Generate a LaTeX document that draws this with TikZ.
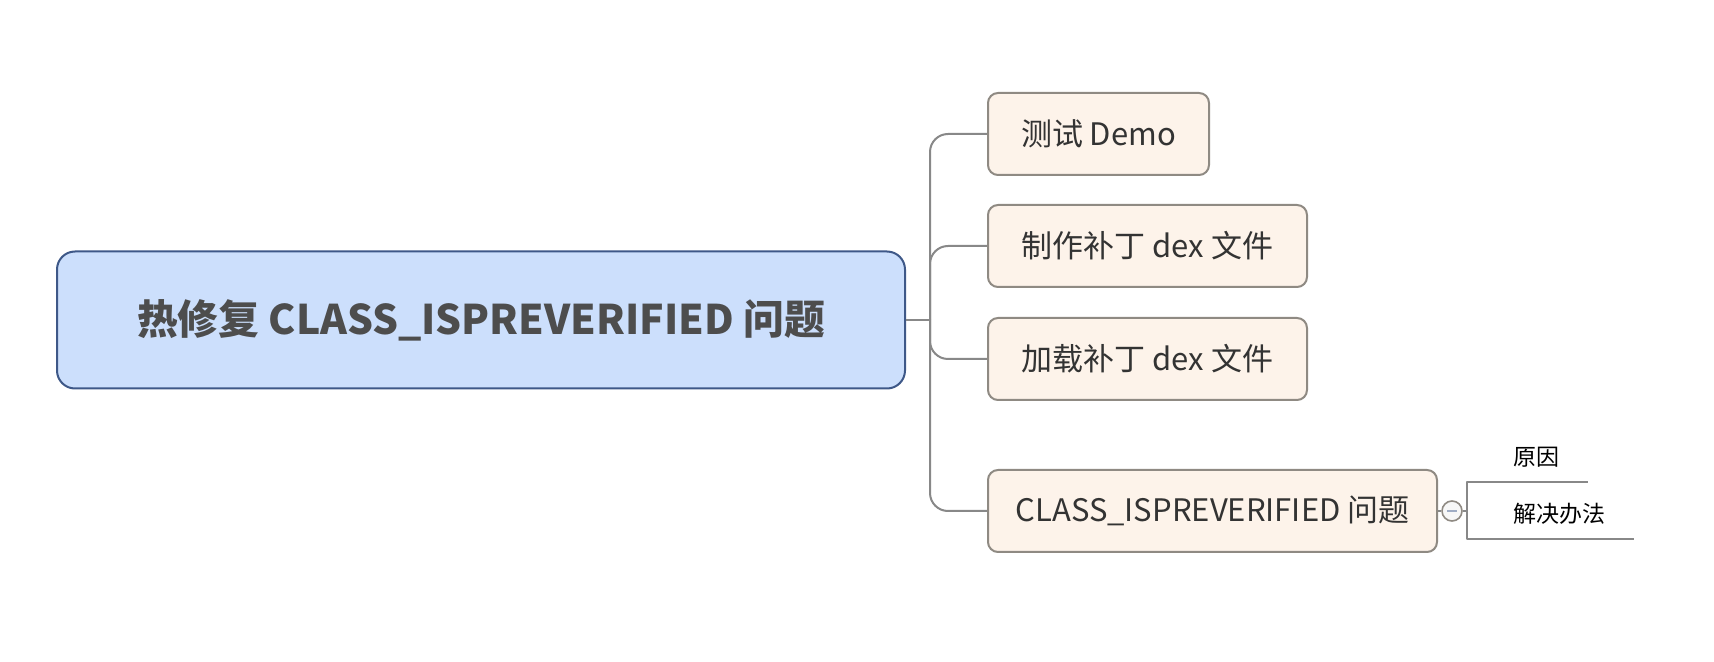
\documentclass[tikz,border=0pt]{standalone}
\usepackage{fontspec}
\setmainfont{Noto Sans CJK SC}
\usepackage{tikz}
\definecolor{rootfill}{RGB}{204,223,252}
\definecolor{rootline}{RGB}{62,88,136}
\definecolor{rootink}{RGB}{77,77,77}
\definecolor{topicfill}{RGB}{253,243,234}
\definecolor{topicline}{RGB}{143,138,131}
\definecolor{topicink}{RGB}{51,51,51}
\definecolor{branchgray}{RGB}{136,136,136}

\begin{document}
\begin{tikzpicture}[x=0.5pt,y=-0.5pt,line join=round,
  rootbox/.style={draw=rootline,fill=rootfill,line width=1pt,rounded corners=9pt,minimum width=424pt,minimum height=68.5pt,text=rootink,font=\fontsize{20.4}{24}\selectfont\bfseries},
  topic/.style={draw=topicline,fill=topicfill,line width=1pt,rounded corners=5pt,minimum height=41pt,anchor=west,text=topicink,font=\fontsize{15.5}{19}\selectfont},
  leaf/.style={anchor=south west,inner xsep=14pt,inner ysep=6pt,text height=9pt,text depth=2pt,font=\fontsize{11.5}{14}\selectfont},
  branch/.style={draw=branchgray,line width=1pt,rounded corners=9pt}]
\useasboundingbox (0,0) rectangle (1714,662);
\node[rootbox] (root) at (481,320) {\raisebox{-1.2pt}{热修复 CLASS\_ISPREVERIFIED 问题}};
\node[topic,minimum width=110.5pt] (demo) at (987,134) {测试 Demo};
\node[topic,minimum width=159.5pt] (make) at (987,246) {制作补丁 dex 文件};
\node[topic,minimum width=159.5pt] (load) at (987,359) {加载补丁 dex 文件};
\node[topic,minimum width=224.5pt] (issue) at (987,511) {CLASS\_ISPREVERIFIED 问题};
\coordinate (trunk) at (930,320);
\draw[branch] (root.east) -- (trunk);
\foreach \n in {demo,make,load,issue} \draw[branch] (trunk) |- (\n.west);
\node[circle,draw=topicline,fill=black!3,line width=0.8pt,minimum size=10pt,inner sep=0pt] (fold) at (1452,511) {};
\draw[branchgray,line width=1pt] (issue.east) -- (fold.west);
\draw[rootline!50,line width=1pt] ([xshift=-2.5pt]fold.center) -- ([xshift=2.5pt]fold.center);
\coordinate (fork) at (1467,511);
\node[leaf] (cause) at (1485,482) {原因};
\node[leaf] (fix) at (1485,539) {解决办法};
\draw[branchgray,line width=1pt] (fold.east) -- (fork);
\draw[branchgray,line width=1pt] (cause.south east) -- (cause.south -| fork) -- (fix.south -| fork) -- (fix.south east);
\end{tikzpicture}
\end{document}
